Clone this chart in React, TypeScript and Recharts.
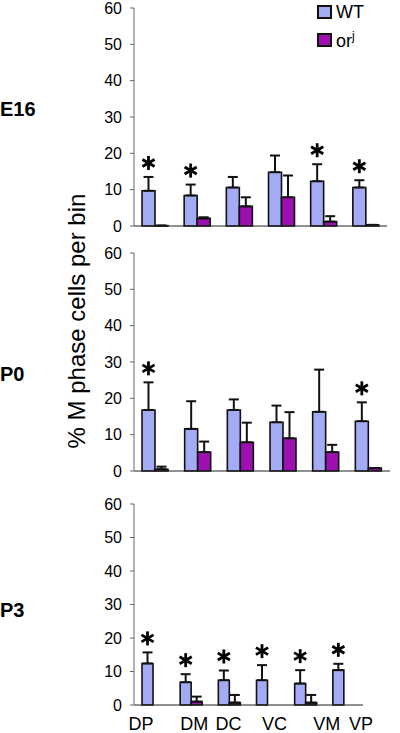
import React from 'react'
import { ComposedChart, Bar, ErrorBar, LabelList, XAxis, YAxis, Legend } from 'recharts'

const CATEGORIES = ['DP', 'DM', 'DC', 'VC', 'VM', 'VP']
const Y_TICKS = [0, 10, 20, 30, 40, 50, 60]

const E16_WT = [9.7, 8.4, 10.6, 14.8, 12.3, 10.6]
const E16_WT_ERR = [3.8, 3.0, 2.9, 4.6, 4.7, 2.0]
const E16_ORJ = [0.1, 2.1, 5.4, 7.9, 1.2, 0.3]
const E16_ORJ_ERR = [0, 0.3, 2.5, 6.0, 1.5, 0]
const E16_SIG = [true, true, false, false, true, true]

const P0_WT = [16.8, 11.6, 16.8, 13.4, 16.3, 13.7]
const P0_WT_ERR = [7.6, 7.6, 2.9, 4.6, 11.6, 5.2]
const P0_ORJ = [0.5, 5.2, 7.9, 9.0, 5.2, 0.8]
const P0_ORJ_ERR = [0.7, 2.9, 5.4, 7.2, 2.0, 0]
const P0_SIG = [true, false, false, false, false, true]

const P3_WT = [12.4, 6.8, 7.4, 7.4, 6.4, 10.4]
const P3_WT_ERR = [3.3, 2.4, 2.9, 4.5, 4.0, 1.9]
const P3_ORJ = [0, 1.0, 0.7, 0, 0.7, 0]
const P3_ORJ_ERR = [0, 1.5, 2.3, 3.0, 2.3, 0]
const P3_SIG = [true, true, true, true, true, true]

const WT_COLOR = '#a3abf5'
const ORJ_COLOR = '#9e0fb2'
const FONT = '"Liberation Sans", Arial, sans-serif'

// hand placed labels in the original figure, not centred on bars
const LABEL_SHIFT = [-12, 3, -1, 7, 21, 17]

function buildRows(wt: number[], wtErr: number[], orj: number[], orjErr: number[], sig: boolean[]) {
  return CATEGORIES.map((c, i) => ({
    name: c,
    wt: wt[i],
    wtErr: [0, wtErr[i]],
    orj: orj[i],
    orjErr: [0, orjErr[i]],
    sig: sig[i],
  }))
}

function starLabel(rows: any[]) {
  return (props: any) => {
    const { x, y, width, height, index, value } = props
    const row = rows[index]
    if (!row || !row.sig || !value) return null
    const ppu = height / value
    const cx = x + width / 2
    const cy = y - row.wtErr[1] * ppu - 14
    const r = 7
    const arms = [90, 30, 150].map((a) => {
      const rad = (a * Math.PI) / 180
      return { dx: Math.cos(rad) * r, dy: Math.sin(rad) * r }
    })
    return (
      <g>
        {arms.map((a, k) => (
          <line key={k} x1={cx - a.dx} y1={cy - a.dy} x2={cx + a.dx} y2={cy + a.dy} stroke="#000" strokeWidth={2.8} />
        ))}
      </g>
    )
  }
}

function LegendBox({ payload }: any) {
  return (
    <div style={{ fontFamily: FONT, fontSize: 18, color: '#000' }}>
      {(payload || []).map((p: any, i: number) => (
        <div key={i} style={{ display: 'flex', alignItems: 'center', height: 28 }}>
          <span style={{ width: 11, height: 10, border: '2px solid #111', background: p.color, marginRight: 4 }} />
          <span>
            {p.value === 'orj' ? <>or<sup style={{ fontSize: 12 }}>j</sup></> : p.value}
          </span>
        </div>
      ))}
    </div>
  )
}

function CatTick({ x, y, payload, index }: any) {
  return (
    <text x={x + LABEL_SHIFT[index]} y={y + 25} textAnchor="middle" fontFamily={FONT} fontSize={18} fill="#000">
      {payload.value}
    </text>
  )
}

interface PanelProps {
  rows: any[]
  top: number
  height: number
  marginTop: number
  marginRight: number
  marginBottom: number
  barSize: number
  showCats?: boolean
  showLegend?: boolean
}

function Panel({ rows, top, height, marginTop, marginRight, marginBottom, barSize, showCats, showLegend }: PanelProps) {
  return (
    <div style={{ position: 'absolute', left: 0, top }}>
      <ComposedChart
        width={400}
        height={height}
        data={rows}
        margin={{ top: marginTop, right: marginRight, left: 0, bottom: marginBottom }}
        barGap={0}
      >
        <XAxis
          dataKey="name"
          height={showCats ? 28 : 1}
          tick={showCats ? <CatTick /> : false}
          tickLine={false}
          tickSize={0}
          tickMargin={0}
          axisLine={{ stroke: '#222', strokeWidth: 1.2 }}
          interval={0}
        />
        <YAxis
          width={134}
          domain={[0, 60]}
          ticks={Y_TICKS}
          interval={0}
          tickSize={4}
          tickMargin={8}
          tick={{ fill: '#000', fontSize: 16, fontFamily: FONT }}
          tickLine={{ stroke: '#666' }}
          axisLine={{ stroke: '#666' }}
        />
        {showLegend && (
          <Legend
            layout="vertical"
            align="center"
            verticalAlign="middle"
            content={<LegendBox />}
            wrapperStyle={{ left: 317, top: -2, width: 80 }}
          />
        )}
        <Bar dataKey="wt" name="WT" fill={WT_COLOR} stroke="#111" strokeWidth={1.6} barSize={barSize} isAnimationActive={false}>
          <ErrorBar dataKey="wtErr" direction="y" width={5} stroke="#111" strokeWidth={2} />
          <LabelList dataKey="wt" content={starLabel(rows)} />
        </Bar>
        <Bar dataKey="orj" name="orj" fill={ORJ_COLOR} stroke="#111" strokeWidth={1.6} barSize={barSize} isAnimationActive={false}>
          <ErrorBar dataKey="orjErr" direction="y" width={5} stroke="#111" strokeWidth={2} />
        </Bar>
      </ComposedChart>
    </div>
  )
}

const panelLabel = (text: string, top: number) => (
  <div style={{ position: 'absolute', left: 0, top, fontFamily: FONT, fontWeight: 'bold', fontSize: 20, color: '#000' }}>
    {text}
  </div>
)

export default function App() {
  const e16 = buildRows(E16_WT, E16_WT_ERR, E16_ORJ, E16_ORJ_ERR, E16_SIG)
  const p0 = buildRows(P0_WT, P0_WT_ERR, P0_ORJ, P0_ORJ_ERR, P0_SIG)
  const p3 = buildRows(P3_WT, P3_WT_ERR, P3_ORJ, P3_ORJ_ERR, P3_SIG)

  return (
    <div style={{ position: 'absolute', left: 0, top: 0, width: 400, height: 733, background: '#fff', overflow: 'hidden' }}>
      <Panel rows={e16} top={0} height={236} marginTop={8} marginRight={13} marginBottom={9} barSize={13} showLegend />
      <Panel rows={p0} top={240} height={241} marginTop={13} marginRight={10} marginBottom={9} barSize={13} />
      <Panel rows={p3} top={490} height={243} marginTop={14} marginRight={37} marginBottom={0} barSize={11} showCats />
      {panelLabel('E16', 98)}
      {panelLabel('P0', 363)}
      {panelLabel('P3', 599)}
      <div
        style={{
          position: 'absolute',
          left: 77,
          top: 321,
          transform: 'translate(-50%, -50%) rotate(-90deg)',
          whiteSpace: 'nowrap',
          fontFamily: FONT,
          fontSize: 24,
          color: '#000',
        }}
      >
        % M phase cells per bin
      </div>
    </div>
  )
}
